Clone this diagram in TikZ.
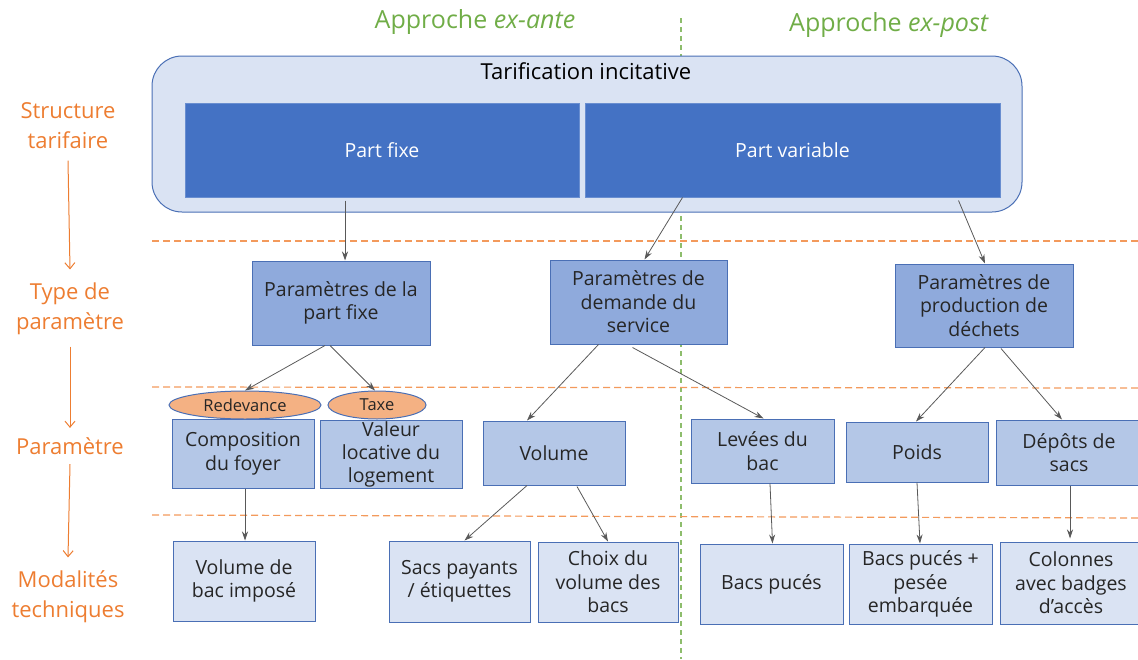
\documentclass[tikz,border=0pt]{standalone}
\usepackage{fontspec}
\setmainfont{Open Sans}
\usetikzlibrary{arrows.meta,shapes.geometric}
\definecolor{bluedark}{HTML}{4472C4}
\definecolor{bluemid}{HTML}{8FAADC}
\definecolor{bluelight}{HTML}{B4C7E7}
\definecolor{bluepale}{HTML}{DAE3F3}
\definecolor{blueedge}{HTML}{4A6FB5}
\definecolor{peach}{HTML}{F4B183}
\definecolor{orangetxt}{HTML}{ED7D31}
\definecolor{orangeline}{HTML}{F39A5C}
\definecolor{greentxt}{HTML}{70AD47}
\definecolor{arrowgray}{HTML}{595959}
\definecolor{inktxt}{HTML}{262626}
\tikzset{
  box/.style={draw=blueedge, line width=1pt, align=center, text=inktxt,
    font=\fontsize{19.5}{23.5}\selectfont, inner sep=2pt},
  typebox/.style={box, fill=bluemid},
  parambox/.style={box, fill=bluelight},
  modbox/.style={box, fill=bluepale},
  partbox/.style={draw=bluedark!80!white, line width=1pt, fill=bluedark, text=white,
    font=\fontsize{19.5}{22}\selectfont},
  tag/.style={ellipse, draw=blueedge, line width=1pt, fill=peach, text=inktxt,
    font=\fontsize{16.5}{18}\selectfont, inner sep=0pt},
  leftlabel/.style={text=orangetxt, align=center, font=\fontsize{22}{30}\selectfont},
  approach/.style={text=greentxt, font=\fontsize{25}{28}\selectfont},
  link/.style={draw=arrowgray, line width=0.8pt, -{Stealth[length=9pt,width=6pt]}},
  sidearrow/.style={draw=orangetxt, line width=1pt, -{Straight Barb[length=6pt,width=10pt]}},
  levelline/.style={draw=orangeline, line width=1.2pt, dash pattern=on 7pt off 4pt},
  splitline/.style={draw=greentxt!80!white, line width=1.2pt, dash pattern=on 5pt off 4pt}
}
\begin{document}
\begin{tikzpicture}[x=1pt,y=-1pt]
\useasboundingbox (0,0) rectangle (1138,659);

% approach headers and the vertical split
\node[approach] (hante) at (475,22) {Approche \textit{ex-ante}};
\node[approach] (hpost) at (889,25) {Approche \textit{ex-post}};
\coordinate (splittop) at (681,18);
\coordinate (splitbot) at (681,659);
\draw[splitline] (splittop) -- (splitbot);

% tariff structure
\node[draw=blueedge, line width=1pt, fill=bluepale, rounded corners=30pt,
  minimum width=870pt, minimum height=156pt, inner sep=0pt] (tarif) at (587,134) {};
\node[text=black, font=\fontsize{22}{26}\selectfont] (tariftitle) at (586,71) {Tarification incitative};
\node[partbox, minimum width=394pt, minimum height=94pt] (pfix) at (382,150) {Part fixe};
\node[partbox, minimum width=415pt, minimum height=94pt] (pvar) at (792.5,150) {Part variable};

% level separators
\coordinate (l1a) at (152,241); \coordinate (l1b) at (1138,241);
\coordinate (l2a) at (152,387); \coordinate (l2b) at (1138,388);
\coordinate (l3a) at (152,515); \coordinate (l3b) at (1138,518);
\draw[levelline] (l1a) -- (l1b);
\draw[levelline] (l2a) -- (l2b);
\draw[levelline] (l3a) -- (l3b);

% level labels on the left
\node[leftlabel] (lstruct) at (68,126) {Structure\\tarifaire};
\node[leftlabel] (ltype) at (70,309) {Type de\\paramètre};
\node[leftlabel] (lparam) at (70,446) {Paramètre};
\node[leftlabel] (lmod) at (68,597) {Modalités\\techniques};
\draw[sidearrow] ([yshift=-8pt]lstruct.south) -- ([yshift=10pt]ltype.north);
\draw[sidearrow] ([yshift=-8pt]ltype.south) -- ([yshift=6pt]lparam.north);
\draw[sidearrow] ([yshift=-6pt]lparam.south) -- ([yshift=10pt]lmod.north);

% parameter types
\node[typebox, minimum width=178pt, minimum height=84pt] (tfix) at (341,303) {Paramètres de la\\part fixe};
\node[typebox, minimum width=177pt, minimum height=84pt] (tdem) at (638.5,302) {Paramètres de\\demande du\\service};
\node[typebox, minimum width=178pt, minimum height=83pt] (tprod) at (984,305.5) {Paramètres de\\production de\\déchets};

% parameters
\node[parambox, minimum width=142pt, minimum height=69pt] (pcomp) at (243,453.5) {Composition\\du foyer};
\node[parambox, minimum width=142pt, minimum height=68pt, inner sep=0pt, font=\fontsize{19.5}{23}\selectfont] (pval) at (391,454) {Valeur\\locative du\\logement};
\node[parambox, minimum width=142pt, minimum height=64pt] (pvol) at (554,453) {Volume};
\node[parambox, minimum width=143pt, minimum height=64pt] (plev) at (762.5,451) {Levées du\\bac};
\node[parambox, minimum width=142pt, minimum height=60pt] (ppoids) at (917,452) {Poids};
\node[parambox, minimum width=146pt, minimum height=65pt] (pdep) at (1069,452.5) {Dépôts de\\sacs};
\node[tag, minimum width=152pt, minimum height=28pt] (tred) at (245,405) {Redevance};
\node[tag, minimum width=98pt, minimum height=28pt] (ttaxe) at (377,405) {Taxe};

% technical modalities
\node[modbox, minimum width=142pt, minimum height=80pt] (mvbi) at (244,581) {Volume de\\bac imposé};
\node[modbox, minimum width=141pt, minimum height=81pt] (msacs) at (459.5,581.5) {Sacs payants\\/ étiquettes};
\node[modbox, minimum width=140pt, minimum height=80pt] (mchoix) at (608,582) {Choix du\\volume des\\bacs};
\node[modbox, minimum width=143pt, minimum height=80pt] (mpuce) at (771.5,584) {Bacs pucés};
\node[modbox, minimum width=143pt, minimum height=80pt] (mpese) at (920.5,584) {Bacs pucés +\\pesée\\embarquée};
\node[modbox, minimum width=142pt, minimum height=82pt] (mcol) at (1071,583) {Colonnes\\avec badges\\d’accès};

% links: structure -> parameter types
\draw[link] ([xshift=-37pt,yshift=-3pt]pfix.south) -- ([xshift=4pt]tfix.north);
\draw[link] ([xshift=-110pt]pvar.south) -- ([xshift=6pt]tdem.north);
\draw[link] ([xshift=166pt,yshift=-3pt]pvar.south) -- ([xshift=1pt]tprod.north);

% links: parameter types -> parameters
\draw[link] ([xshift=-16pt]tfix.south) -- (tred.north);
\draw[link] ([xshift=-11pt]tfix.south) -- ([xshift=-2pt]ttaxe.north);
\draw[link] ([xshift=-40pt]tdem.south) -- ([xshift=-27pt]pvol.north);
\draw[link] ([xshift=-6pt,yshift=-3pt]tdem.south) -- ([xshift=1pt]plev.north);
\draw[link] ([xshift=1pt]tprod.south) -- ([xshift=-1pt]ppoids.north);
\draw[link] ([xshift=17pt,yshift=-1pt]tprod.south) -- ([xshift=-7pt]pdep.north);

% links: parameters -> modalities
\draw[link] ([xshift=2pt]pcomp.south) -- ([xshift=1pt]mvbi.north);
\draw[link] ([xshift=-27pt]pvol.south) -- ([xshift=5pt]msacs.north);
\draw[link] ([xshift=23pt,yshift=-1pt]pvol.south) -- (mchoix.north);
\draw[link] ([xshift=7.5pt]plev.south) -- ([xshift=1pt]mpuce.north);
\draw[link] (ppoids.south) -- ([xshift=-0.5pt]mpese.north);
\draw[link] ([xshift=1pt]pdep.south) -- ([xshift=-1pt,yshift=3pt]mcol.north);
\end{tikzpicture}
\end{document}
